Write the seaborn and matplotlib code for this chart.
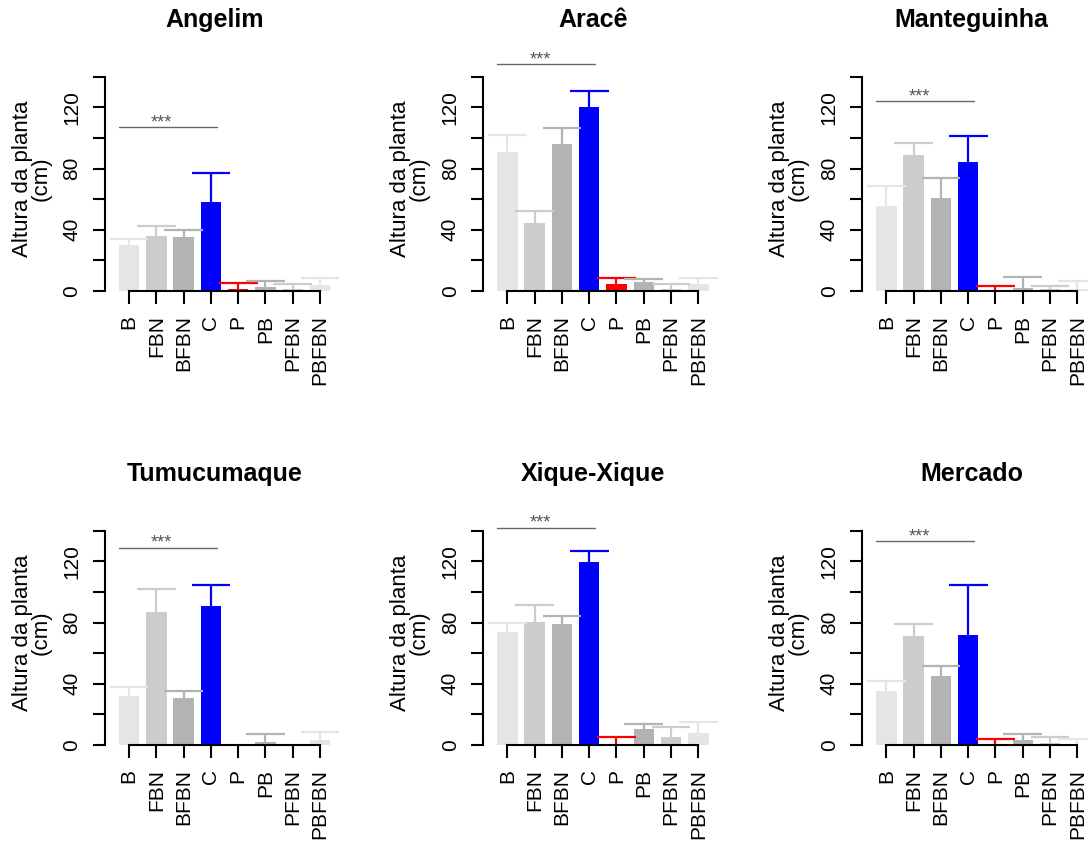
import matplotlib
matplotlib.use("Agg")
import matplotlib.pyplot as plt
import seaborn as sns
import pandas as pd

sns.set_theme(style="ticks")
plt.rcParams['font.family'] = ['Liberation Sans', 'DejaVu Sans']

categories = ["B", "FBN", "BFBN", "C", "P", "PB", "PFBN", "PBFBN"]
sites = ["Angelim", "Aracê", "Manteguinha", "Tumucumaque", "Xique-Xique", "Mercado"]

angelim_mean = [30, 36, 35, 58, 1, 2.4, 1.3, 3.7]
angelim_upper = [34, 42.6, 40, 77, 5, 6.8, 4.8, 8.3]
arace_mean = [91, 44.6, 96, 120.2, 4.4, 5.9, 1, 4.4]
arace_upper = [101.7, 52.3, 106.7, 130.7, 8.5, 8, 4.4, 8.5]
manteguinha_mean = [55.7, 89, 61, 84, 0.4, 2, 1, 1.3]
manteguinha_upper = [68.9, 97, 74, 101, 3.3, 9, 3, 6.3]
tumucumaque_mean = [31.9, 86.8, 30.5, 91, 0, 2, 0, 3.5]
tumucumaque_upper = [38.2, 102, 35, 104.3, 0, 7.2, 0, 8.5]
xique_mean = [73.6, 80.4, 78.8, 119.6, 0.7, 10.5, 5.3, 8.1]
xique_upper = [79.5, 91.3, 84, 126.6, 5.5, 14, 11.6, 14.7]
mercado_mean = [35, 71.4, 45, 71.8, 0.4, 3.3, 1.1, 0.2]
mercado_upper = [42, 79, 51.5, 104.2, 3.9, 7.2, 5.5, 3.7]

means = [angelim_mean, arace_mean, manteguinha_mean, tumucumaque_mean, xique_mean, mercado_mean]
uppers = [angelim_upper, arace_upper, manteguinha_upper, tumucumaque_upper, xique_upper, mercado_upper]
sig_y = [107, 148, 124, 129, 142, 133]
sig_label = "***"

colors = ["#E5E5E5", "#CCCCCC", "#B3B3B3", "#0000FF", "#FF0000", "#B3B3B3", "#CCCCCC", "#E5E5E5"]
yticks = [0, 20, 40, 60, 80, 100, 120, 140]
yticklabels = ["0", "", "40", "", "80", "", "120", ""]

W, H = 1088, 841
fig = plt.figure(figsize=(W / 100, H / 100), dpi=100)

col_left = [105, 483.3, 862.3]
row_bottom = [291, 745]
ax_w, ax_h = 219, 214.3

for k, site in enumerate(sites):
    r, c = divmod(k, 3)
    ax = fig.add_axes([col_left[c] / W, (H - row_bottom[r]) / H, ax_w / W, ax_h / H])
    df = pd.DataFrame({"trat": categories, "altura": means[k]})
    sns.barplot(data=df, x="trat", y="altura", hue="trat", order=categories,
                hue_order=categories, palette=dict(zip(categories, colors)),
                width=0.75, errorbar=None, legend=False, ax=ax, saturation=1)
    for p in ax.patches:
        p.set_clip_on(False)
        p.set_linewidth(0)
    for i, (m, u) in enumerate(zip(means[k], uppers[k])):
        if u <= 0:
            continue
        ax.vlines(i, m, u, color=colors[i], lw=1.6, clip_on=False, zorder=2)
        ax.hlines(u, i - 0.71, i + 0.71, color=colors[i], lw=1.6, clip_on=False, zorder=2)

    ax.plot([-0.37, 3.22], [sig_y[k], sig_y[k]], color="#666666", lw=1, clip_on=False)
    ax.text(1.2, sig_y[k], sig_label, ha="center", va="baseline", fontsize=13,
            color="#555555", clip_on=False)

    ax.set_xlim(-0.88, 7.145)
    ax.set_ylim(0, 140)
    ax.set_yticks(yticks)
    ax.set_yticklabels(yticklabels, rotation=90, va="center")
    ax.set_xticks(range(len(categories)))
    ax.set_xticklabels(categories, rotation=90, ha="center", va="top")
    ax.tick_params(axis="both", direction="out", length=9, width=1.5, labelsize=15,
                   pad=8, color="black", labelcolor="black")
    for s in ["top", "right"]:
        ax.spines[s].set_visible(False)
    for s in ["left", "bottom"]:
        ax.spines[s].set_linewidth(1.5)
        ax.spines[s].set_color("black")
    ax.spines["left"].set_bounds(0, 140)
    ax.spines["bottom"].set_bounds(0, 7)
    ax.set_xlabel("")
    ax.set_ylabel("")
    ax.annotate("Altura da planta\n(cm)", xy=(0, 0.523), xycoords="axes fraction",
                xytext=(-73.5 * 0.72, 0), textcoords="offset points", rotation=90,
                ha="center", va="center", fontsize=16, linespacing=0.85,
                multialignment="center", color="black")
    ax.set_title(site, fontsize=18, fontweight="bold", pad=36, color="black")

fig.savefig("out.png", dpi=100)
